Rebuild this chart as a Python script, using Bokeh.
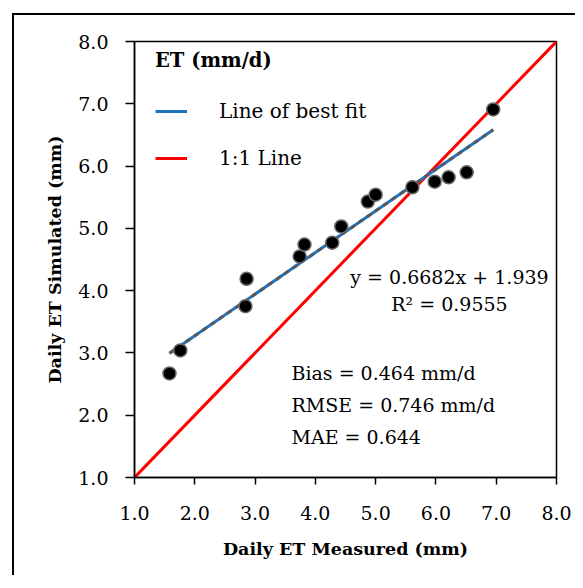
from bokeh.plotting import figure
from bokeh.models import Range1d, FixedTicker, PrintfTickFormatter, Label, Legend, LegendItem
from bokeh.embed import file_html
from bokeh.resources import INLINE

# ---- data ----
measured = [1.58, 1.76, 2.84, 2.86, 3.74, 3.82, 4.28, 4.43, 4.87, 5.00, 5.61, 5.98, 6.21, 6.51, 6.95]
simulated = [2.67, 3.04, 3.75, 4.19, 4.55, 4.74, 4.77, 5.03, 5.43, 5.54, 5.66, 5.75, 5.82, 5.90, 6.91]
fit_slope = 0.6682
fit_intercept = 1.939
axis_limits = [1.0, 8.0]
ticks = [1, 2, 3, 4, 5, 6, 7, 8]

SERIF = "DejaVu Serif"

p = figure(width=563, height=562, output_backend="svg", toolbar_location=None,
           x_range=Range1d(*axis_limits), y_range=Range1d(*axis_limits),
           min_border_left=120, min_border_right=21, min_border_top=26, min_border_bottom=100)
p.styles = {"margin-left": "14px", "margin-top": "15px",
            "box-shadow": "-2px -2px 0px 0px black"}
p.grid.visible = False
p.outline_line_color = "black"
p.outline_line_width = 1.5
p.background_fill_color = "white"
p.border_fill_color = "white"

for ax in (p.xaxis[0], p.yaxis[0]):
    ax.ticker = FixedTicker(ticks=ticks)
    ax.formatter = PrintfTickFormatter(format="%.1f")
    ax.minor_tick_line_color = None
    ax.major_tick_in = 0
    ax.axis_line_width = 1.5
    ax.major_tick_line_width = 1.5
    ax.major_label_text_font = SERIF
    ax.major_label_text_font_size = "19px"
    ax.major_label_text_color = "black"
    ax.axis_label_text_font = SERIF
    ax.axis_label_text_font_style = "bold"
    ax.axis_label_text_font_size = "17.5px"
    ax.axis_label_text_color = "black"

p.xaxis.axis_label = "Daily ET Measured (mm)"
p.yaxis.axis_label = "Daily ET Simulated (mm)"
p.xaxis.major_tick_out = 7
p.yaxis.major_tick_out = 9
p.xaxis.major_label_standoff = 21
p.yaxis.major_label_standoff = 17
p.xaxis.axis_label_standoff = 16
p.yaxis.axis_label_standoff = 10

# 1:1 line
r_one = p.line(axis_limits, axis_limits, line_color="#FF0000", line_width=3)

# best fit line
xf = [min(measured), max(measured)]
yf = [fit_slope * v + fit_intercept for v in xf]
r_fit = p.line(xf, yf, line_color="#1F72C0", line_width=3)
p.line(xf, yf, line_color="#595959", line_width=3, line_dash="5 5")

# points
p.scatter(measured, simulated, size=13, fill_color="black", line_color="#666666", line_width=1.5)

legend = Legend(items=[LegendItem(label="Line of best fit", renderers=[r_fit]),
                       LegendItem(label="1:1 Line", renderers=[r_one])],
                location=(21, 307), title="ET (mm/d)")
legend.title_text_font = SERIF
legend.title_text_font_style = "bold"
legend.title_text_font_size = "19.5px"
legend.title_text_color = "black"
legend.title_standoff = 27
legend.label_text_font = SERIF
legend.label_text_font_size = "20px"
legend.label_text_color = "black"
legend.glyph_width = 32
legend.glyph_height = 20
legend.label_height = 20
legend.label_standoff = 32
legend.spacing = 23
legend.padding = 0
legend.margin = 0
legend.border_line_color = None
legend.background_fill_alpha = 0
p.add_layout(legend, "center")

def lab(x, y, t, align="left"):
    p.add_layout(Label(x=x, y=y, text=t, text_font=SERIF, text_font_size="19px",
                       text_align=align, text_baseline="middle", text_color="black"))

lab(6.225, 4.227, "y = 0.6682x + 1.939", "center")
lab(6.225, 3.793, "R\u00b2 = 0.9555", "center")
lab(3.604, 2.670, "Bias = 0.464 mm/d")
lab(3.604, 2.156, "RMSE = 0.746 mm/d")
lab(3.604, 1.658, "MAE = 0.644")

open("out.html", "w").write(file_html(p, INLINE))
